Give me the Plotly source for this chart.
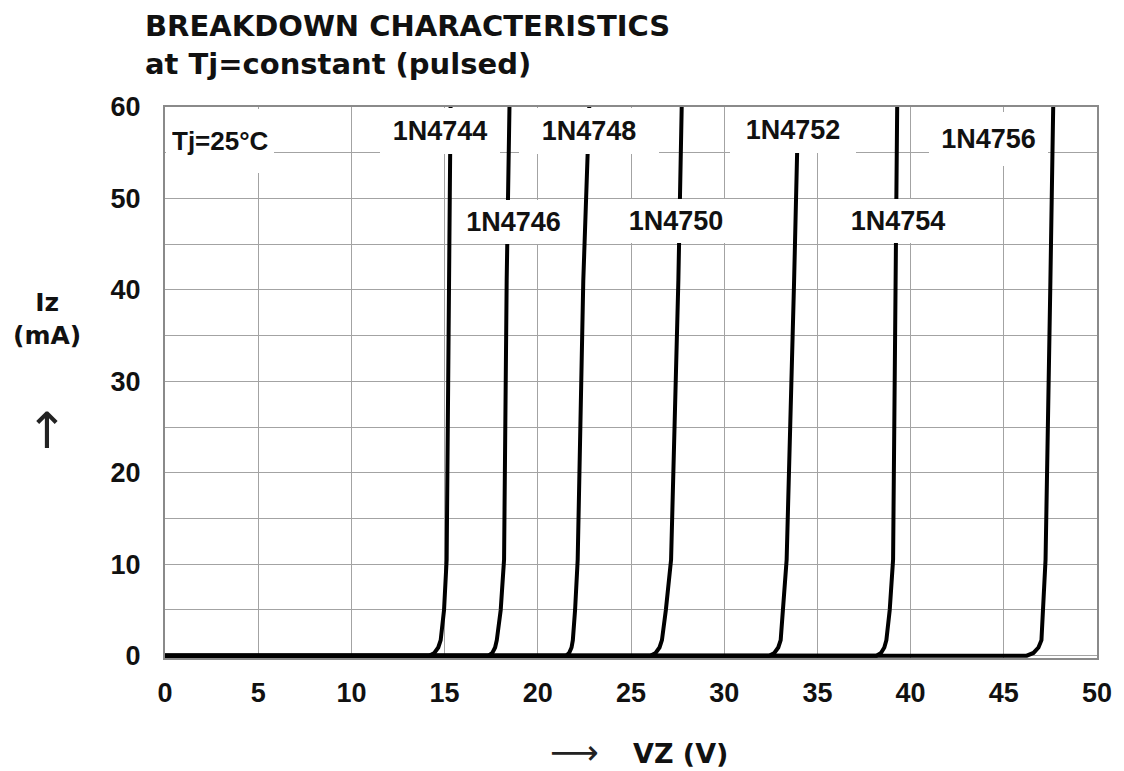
import plotly.graph_objects as go

# ---- data ----
diodes = ["1N4744", "1N4746", "1N4748", "1N4750", "1N4752", "1N4754", "1N4756"]
iz_ma = [0, 0, 0.3, 0.9, 1.7, 5, 10.5, 41, 60]
vz_1N4744 = [0, 14.17, 14.45, 14.66, 14.79, 14.97, 15.11, 15.23, 15.32]
vz_1N4746 = [0, 17.36, 17.56, 17.71, 17.80, 18.01, 18.19, 18.33, 18.48]
vz_1N4748 = [0, 21.52, 21.68, 21.81, 21.88, 22.00, 22.14, 22.44, 22.76]
vz_1N4750 = [0, 26.04, 26.32, 26.53, 26.66, 26.87, 27.15, 27.54, 27.72]
vz_1N4752 = [0, 32.41, 32.69, 32.90, 33.03, 33.17, 33.35, 33.75, 33.97]
vz_1N4754 = [0, 38.17, 38.41, 38.59, 38.70, 38.88, 39.06, 39.20, 39.28]
vz_1N4756 = [0, 46.23, 46.59, 46.86, 47.02, 47.11, 47.24, 47.50, 47.65]
vz_series = [vz_1N4744, vz_1N4746, vz_1N4748, vz_1N4750, vz_1N4752, vz_1N4754, vz_1N4756]

x_ticks = [0, 5, 10, 15, 20, 25, 30, 35, 40, 45, 50]
y_ticks = [0, 10, 20, 30, 40, 50, 60]

# label placement (V, mA) and white box size (px)
label_x = [14.77, 18.70, 22.74, 27.42, 33.69, 39.32, 44.16]
label_y = [57.37, 47.43, 57.37, 47.53, 57.48, 47.53, 56.5]
label_w = [120, 115, 140, 118, 126, 124, 119]
label_h = [46, 44, 46, 44, 46, 44, 54]

W, H = 1124, 771
L, R, T, B = 165, 18, 107, 113
pw, ph = W - L - R, H - T - B

def px(xp):
    return (xp - L) / pw

def py(yp):
    return 1 - (yp - T) / ph

fig = go.Figure()
for name, vz in zip(diodes, vz_series):
    fig.add_trace(go.Scatter(x=vz, y=iz_ma, mode="lines", name=name,
                             line=dict(color="black", width=4), showlegend=False,
                             hoverinfo="skip"))

lab_font = dict(family="Liberation Sans", size=27, color="#111", weight="bold")
ann = []
for name, lx, ly, w, h in zip(diodes, label_x, label_y, label_w, label_h):
    ann.append(dict(x=lx, y=ly, xref="x", yref="y", text=name, showarrow=False,
                    bgcolor="white", width=w, height=h, borderpad=0, borderwidth=0,
                    font=lab_font, xanchor="center", yanchor="middle"))
# Tj label
ann.append(dict(x=0, y=59.8, xref="x", yref="y", text="Tj=25°C", showarrow=False,
                bgcolor="white", width=96, height=52, borderpad=6, borderwidth=0,
                align="left", xanchor="left", yanchor="top", xshift=1,
                font=dict(family="Liberation Sans", size=26, color="#111", weight="bold")))
# axis labels
ann.append(dict(x=px(46), y=py(319), xref="paper", yref="paper", text="Iz<br>(mA)",
                showarrow=False, xanchor="center", yanchor="middle",
                font=dict(family="DejaVu Sans", size=25, color="#111", weight="bold")))
ann.append(dict(x=px(46), y=py(431), xref="paper", yref="paper", text="↑",
                showarrow=False, xanchor="center", yanchor="middle",
                font=dict(family="DejaVu Sans", size=50, color="#222")))
ann.append(dict(x=px(578), y=py(752), xref="paper", yref="paper", text="⟶",
                showarrow=False, xanchor="center", yanchor="middle",
                font=dict(family="DejaVu Sans", size=34, color="#222")))
ann.append(dict(x=px(685), y=py(753), xref="paper", yref="paper", text="VZ (V)",
                showarrow=False, xanchor="center", yanchor="middle",
                font=dict(family="DejaVu Sans", size=27, color="#111", weight="bold")))

grid_c = "#a3a3a3"
tick_font = dict(family="Liberation Sans", size=27, color="#111", weight="bold")
fig.update_layout(
    width=W, height=H,
    margin=dict(l=L, r=R, t=T, b=B),
    plot_bgcolor="white", paper_bgcolor="white",
    title=dict(text="BREAKDOWN CHARACTERISTICS<br>at Tj=constant (pulsed)",
               x=145 / W, xanchor="left", xref="container",
               y=1 - 36 / H, yanchor="top", yref="container",
               font=dict(family="DejaVu Sans", size=29, color="#111", weight="bold")),
    annotations=ann,
    xaxis=dict(range=[0, 50], tickvals=x_ticks, ticktext=[str(v) for v in x_ticks],
               showgrid=True, gridcolor=grid_c, gridwidth=1, zeroline=False,
               showline=True, mirror=True, linecolor="#8a8a8a", linewidth=2,
               ticks="", ticklabelstandoff=10, tickfont=tick_font),
    yaxis=dict(range=[-0.25, 60], tickvals=y_ticks, ticktext=[str(v) for v in y_ticks],
               showgrid=True, gridcolor=grid_c, gridwidth=1, zeroline=False,
               minor=dict(dtick=5, tick0=0, showgrid=True, gridcolor=grid_c, gridwidth=1),
               showline=True, mirror=True, linecolor="#8a8a8a", linewidth=2,
               ticks="", ticklabelstandoff=17, tickfont=tick_font),
)
fig.write_html("out.html")
